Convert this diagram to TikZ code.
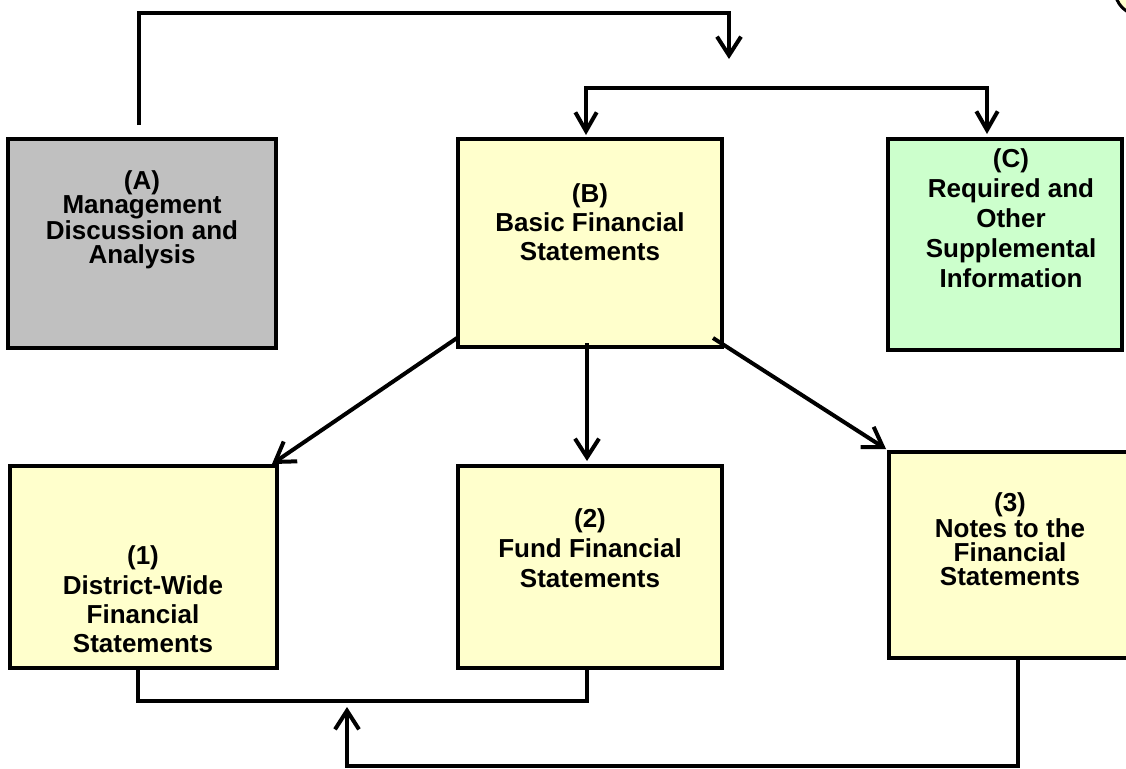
\documentclass[tikz,border=0pt]{standalone}
\usepackage{fontspec}
\setmainfont{Liberation Sans}
\usetikzlibrary{arrows.meta}
\definecolor{boxgray}{HTML}{C0C0C0}
\definecolor{boxyellow}{HTML}{FFFFCC}
\definecolor{boxgreen}{HTML}{CCFFCC}
\begin{document}
\begin{tikzpicture}[x=0.75pt,y=-0.75pt,
  boxshape/.style={draw=black, line width=3pt, rectangle, inner sep=0pt},
  boxtext/.style={align=center, inner sep=0pt, font=\bfseries\fontsize{19.5}{#1}\selectfont},
  wire/.style={draw=black, line width=3pt, line join=miter},
  arr/.style={wire, -{Straight Barb[length=14pt, width=18pt, line width=3pt]}},
  darr/.style={wire, {Straight Barb[length=14pt, width=16pt, line width=3pt]}-{Straight Barb[length=14pt, width=16pt, line width=3pt]}}
]
\useasboundingbox (0,0) rectangle (1126,768);
\clip (0,0) rectangle (1126,768);

% boxes
\node[boxshape, fill=boxgray,   minimum width=201pt,   minimum height=157pt]   (A) at (142,243.5) {};
\node[boxshape, fill=boxyellow, minimum width=198pt,   minimum height=156pt]   (B) at (590,243) {};
\node[boxshape, fill=boxgreen,  minimum width=175.5pt, minimum height=158pt]   (C) at (1005,244.5) {};
\node[boxshape, fill=boxyellow, minimum width=200pt,   minimum height=151.5pt] (S1) at (143.5,567) {};
\node[boxshape, fill=boxyellow, minimum width=198pt,   minimum height=151.5pt] (S2) at (590,567) {};
\node[boxshape, fill=boxyellow, minimum width=181.5pt, minimum height=154.5pt] (S3) at (1010,555) {};

% texts
\node[boxtext=18pt]    (tA) at (142,220)    {(A)\\Management\\Discussion and\\Analysis};
\node[boxtext=21.75pt] (tB) at (590,222)    {(B)\\Basic Financial\\Statements};
\node[boxtext=22.5pt]  (tC) at (1011,218.5) {(C)\\Required and\\Other\\Supplemental\\Information};
\node[boxtext=22pt]    (t1) at (143,599.5)  {(1)\\District-Wide\\Financial\\Statements};
\node[boxtext=22.5pt]  (t2) at (590,548)    {(2)\\Fund Financial\\Statements};
\node[boxtext=18pt]    (t3) at (1010,539)   {(3)\\Notes to the\\Financial\\Statements};

% top connector from A
\coordinate (aStart) at (139,125);
\coordinate (aCorner) at (729,13);
\coordinate (aTip) at (729,59);
\draw[arr] (aStart) |- (aCorner) -- (aTip);

% bracket to B and C
\coordinate (tipB) at (586,135);
\coordinate (bcL) at (586,88);
\coordinate (bcR) at (987,88);
\coordinate (tipC) at (987,134);
\draw[darr] (tipB) -- (bcL) -- (bcR) -- (tipC);

% B to 1, 2, 3
\coordinate (b1) at (457,338);
\coordinate (b2) at (587,343);
\coordinate (b3) at (713,338);
\coordinate (tip1) at (272,464);
\coordinate (tip2) at (587,461);
\coordinate (tip3) at (886,449);
\draw[arr] (b1) -- (tip1);
\draw[arr] (b2) -- (tip2);
\draw[arr] (b3) -- (tip3);

% bottom bracket
\coordinate (s1b) at (138,666);
\coordinate (s2b) at (587,666);
\draw[wire] (s1b) -- (138,701) -- (587,701) -- (s2b);

% return arrow from 3
\coordinate (s3b) at (1018,657);
\coordinate (retR) at (1018,766);
\coordinate (retTip) at (347,707);
\draw[arr] (s3b) -- (retR) -| (retTip);

% partial shape at top right corner
\filldraw[fill=boxyellow, draw=black, line width=2.25pt] (1140,-10) circle [radius=18.75pt];
\end{tikzpicture}
\end{document}
